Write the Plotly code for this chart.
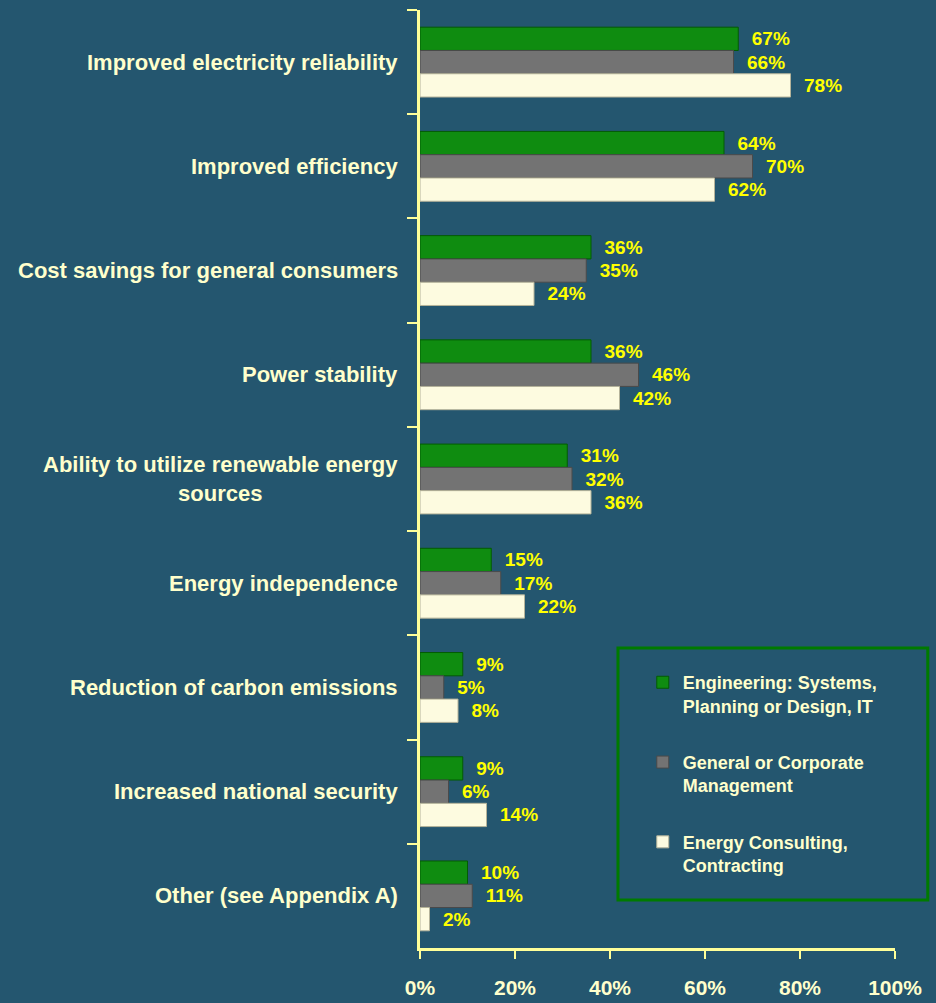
import plotly.graph_objects as go

categories = [
    "Improved electricity reliability",
    "Improved efficiency",
    "Cost savings for general consumers",
    "Power stability",
    "Ability to utilize renewable energy<br>sources",
    "Energy independence",
    "Reduction of carbon emissions",
    "Increased national security",
    "Other (see Appendix A)",
]
series_names = [
    "Engineering: Systems,<br>Planning or Design, IT",
    "General or Corporate<br>Management",
    "Energy Consulting,<br>Contracting",
]
engineering = [67, 64, 36, 36, 31, 15, 9, 9, 10]
management = [66, 70, 35, 46, 32, 17, 5, 6, 11]
consulting = [78, 62, 24, 42, 36, 22, 8, 14, 2]
x_ticks = [0, 20, 40, 60, 80, 100]
x_ticktext = ["0%", "20%", "40%", "60%", "80%", "100%"]

BG = "#24566f"
AXIS = "#ffff99"
CREAM = "#ffffcc"
LABEL = "#ffff00"
FONT = "Liberation Sans"

colors = ["#0f8c10", "#737373", "#fdfbe0"]
edges = ["#035c03", "#4a4a4a", "#b5b39a"]

fig = go.Figure()
for name, vals, c, e in zip(series_names, [engineering, management, consulting], colors, edges):
    fig.add_trace(go.Bar(
        y=categories, x=vals, orientation="h", name=name,
        legendgroup=name,
        marker=dict(color=c, line=dict(color=e, width=1)),
        text=[f"\u00a0\u00a0{v}%" for v in vals], textposition="outside",
        textfont=dict(family=FONT, size=19, color=LABEL, weight="bold"),
        cliponaxis=False,
    ))

for cat in categories:
    fig.add_annotation(
        x=0, xref="paper", y=cat, yref="y", text=cat, showarrow=False,
        xanchor="right", xshift=-20, align="center",
        font=dict(family=FONT, size=22, color=CREAM, weight="bold"),
    )

fig.add_shape(type="rect", xref="paper", yref="paper",
              x0=0.4168, x1=1.069, y0=0.0512, y1=0.3198,
              line=dict(color="#007a00", width=3))

fig.update_layout(
    width=936, height=1003,
    paper_bgcolor=BG, plot_bgcolor=BG,
    margin=dict(l=420, r=41, t=10, b=55, autoexpand=False),
    barmode="group", bargap=0.33, bargroupgap=0,
    showlegend=True,
    legend=dict(x=0.469, y=0.3027, xanchor="left", yanchor="top",
                bgcolor="rgba(0,0,0,0)", tracegroupgap=30, valign="top",
                font=dict(family=FONT, size=18, color=CREAM, weight="bold"),
                traceorder="grouped"),
    xaxis=dict(range=[0, 100], tickvals=x_ticks, ticktext=x_ticktext,
               automargin=False,
               showgrid=False, zeroline=False, showline=True,
               linecolor=AXIS, linewidth=3, ticks="outside", ticklen=8,
               tickwidth=2, tickcolor=AXIS, ticklabelstandoff=11,
               tickfont=dict(family=FONT, size=21, color=CREAM, weight="bold")),
    yaxis=dict(autorange="reversed", showticklabels=False, showgrid=False,
               automargin=False,
               showline=True, linecolor=AXIS, linewidth=3,
               ticks="outside", tickson="boundaries", ticklen=10,
               tickwidth=2, tickcolor=AXIS),
)

fig.write_html("out.html", config={"displayModeBar": False},
               post_script="document.body.style.margin='0';")
